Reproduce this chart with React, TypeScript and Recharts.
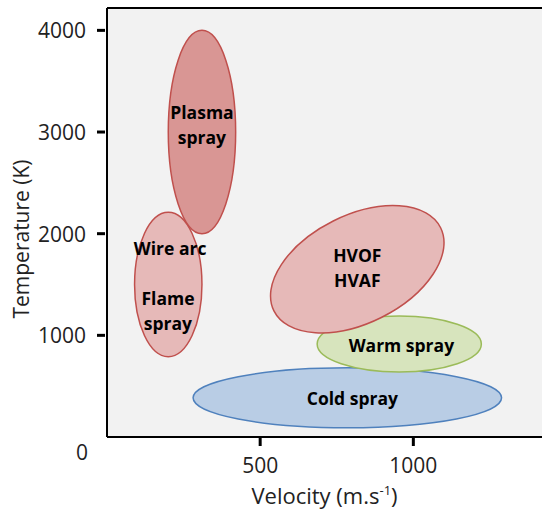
import React from "react";
import {
  CartesianGrid,
  ComposedChart,
  ReferenceArea,
  ReferenceLine,
  Scatter,
  XAxis,
  YAxis,
} from "recharts";

// Zones de procédé (vitesse m/s, température K) — bornes de l'ellipse non tournée
const zoneNames = ["Cold spray", "Warm spray", "HVOF", "Flame", "Plasma"];
const zoneVelMin = [281, 686, 513, 90, 200];
const zoneVelMax = [1288, 1222, 1121, 310, 420];
const zoneTempMin = [90, 640, 1120, 790, 2000];
const zoneTempMax = [680, 1190, 2180, 2210, 4000];
const zoneAngle = [0, 0, -26.5, 0, 0];
const zoneKind = ["cold", "warm", "hot", "hot", "plasma"];

// Étiquettes
const labelLines = [["Plasma", "spray"], ["Wire arc"], ["Flame", "spray"], ["HVOF", "HVAF"], ["Warm spray"], ["Cold spray"]];
const labelVel = [310, 206, 199, 817, 961, 801];
const labelTemp = [3078, 1858, 1249, 1672, 905, 383];

const yTicks = [0, 1000, 2000, 3000, 4000];
const xTicks = [500, 1000];

const COLORS: Record<string, { fill: string; stroke: string }> = {
  cold: { fill: "#b9cde5", stroke: "#4f81bd" },
  warm: { fill: "#d7e4bd", stroke: "#9bbb59" },
  hot: { fill: "#e6b9b8", stroke: "#c0504d" },
  plasma: { fill: "#d99694", stroke: "#c0504d" },
};

const FONT = "'Open Sans', sans-serif";

const labelData = labelLines.map((lines, i) => ({ v: labelVel[i], t: labelTemp[i], lines }));

function EllipseShape(props: any) {
  const { x, y, width, height, kind, angle } = props;
  const cx = x + width / 2;
  const cy = y + height / 2;
  const c = COLORS[kind];
  return (
    <ellipse
      cx={cx}
      cy={cy}
      rx={Math.abs(width) / 2}
      ry={Math.abs(height) / 2}
      fill={c.fill}
      stroke={c.stroke}
      strokeWidth={1.5}
      transform={angle ? `rotate(${angle} ${cx} ${cy})` : undefined}
    />
  );
}

function LabelShape(props: any) {
  const { cx, cy, payload } = props;
  const lines: string[] = payload.lines;
  const lh = 25;
  const start = cy - ((lines.length - 1) * lh) / 2;
  return (
    <g>
      {lines.map((l, i) => (
        <text
          key={i}
          x={cx}
          y={start + i * lh}
          textAnchor="middle"
          dominantBaseline="central"
          fontFamily={FONT}
          fontWeight={700}
          fontSize={17.5}
          fill="#000"
        >
          {l}
        </text>
      ))}
    </g>
  );
}

function YTick({ x, y, payload }: any) {
  if (payload.value === 0) {
    return (
      <text x={x - 25} y={y + 15} textAnchor="middle" dominantBaseline="central" fontFamily={FONT} fontSize={21} fill="#222">
        0
      </text>
    );
  }
  return (
    <g>
      <line x1={x - 10} x2={x - 2} y1={y} y2={y} stroke="#000" strokeWidth={3} />
      <text x={x - 21} y={y} textAnchor="end" dominantBaseline="central" fontFamily={FONT} fontSize={21} fill="#222">
        {payload.value}
      </text>
    </g>
  );
}

function XTick({ x, y, payload }: any) {
  return (
    <g>
      <line x1={x} x2={x} y1={y} y2={y + 9} stroke="#000" strokeWidth={3} />
      <text x={x} y={y + 28} textAnchor="middle" dominantBaseline="central" fontFamily={FONT} fontSize={21} fill="#222">
        {payload.value}
      </text>
    </g>
  );
}

export default function App() {
  return (
    <div style={{ position: "absolute", left: 0, top: 0, background: "#fff" }}>
      <ComposedChart
        width={542}
        height={513}
        data={labelData}
        margin={{ top: 8, right: 0, bottom: 0, left: 0 }}
      >
        <CartesianGrid horizontal={false} vertical={false} fill="#f2f2f2" />
        <XAxis
          type="number"
          dataKey="v"
          domain={[0, 1420]}
          ticks={xTicks}
          height={76}
          tickSize={0}
          tickMargin={0}
          tickLine={false}
          tick={<XTick />}
          axisLine={{ stroke: "#000", strokeWidth: 2 }}
          allowDataOverflow
          label={(p: any) => {
            const vb = p.viewBox;
            return (
              <text
                x={vb.x + vb.width / 2}
                y={504}
                textAnchor="middle"
                fontFamily={FONT}
                fontSize={22}
                fill="#222"
              >
                Velocity (m.s
                <tspan dy={-9} fontSize={13}>-1</tspan>
                <tspan dy={9}>)</tspan>
              </text>
            );
          }}
        />
        <YAxis
          type="number"
          dataKey="t"
          domain={[0, 4220]}
          ticks={yTicks}
          width={107}
          tickSize={0}
          tickMargin={0}
          tickLine={false}
          tick={<YTick />}
          axisLine={{ stroke: "#000", strokeWidth: 2 }}
          allowDataOverflow
          label={() => (
            <text
              x={21}
              y={239}
              transform="rotate(-90 21 239)"
              textAnchor="middle"
              dominantBaseline="central"
              fontFamily={FONT}
              fontSize={21}
              fill="#222"
            >
              Temperature (K)
            </text>
          )}
        />
        <ReferenceLine y={4220} stroke="#000" strokeWidth={2} />
        {zoneNames.map((n, i) => (
          <ReferenceArea
            key={n}
            x1={zoneVelMin[i]}
            x2={zoneVelMax[i]}
            y1={zoneTempMin[i]}
            y2={zoneTempMax[i]}
            ifOverflow="visible"
            shape={(p: any) => <EllipseShape {...p} kind={zoneKind[i]} angle={zoneAngle[i]} />}
          />
        ))}
        <Scatter dataKey="t" shape={<LabelShape />} isAnimationActive={false} />
      </ComposedChart>
    </div>
  );
}
